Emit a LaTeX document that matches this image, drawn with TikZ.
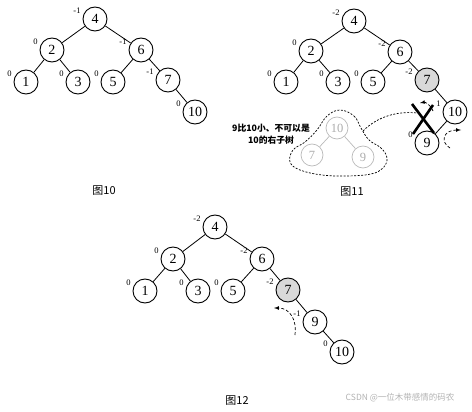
\documentclass[tikz,border=0pt]{standalone}
\usepackage{fontspec}
\setmainfont{Liberation Serif}
\newfontfamily\cjk{Noto Sans CJK SC}
\usetikzlibrary{arrows}
\tikzset{avl/.style={circle, draw, line width=0.9pt, inner sep=0pt, minimum size=24pt, font=\fontsize{14}{14}\selectfont},
  hot/.style={avl, fill=gray!30},
  ghost/.style={circle, draw=gray!55, text=gray!65, line width=0.7pt, inner sep=0pt, minimum size=22pt, font=\fontsize{12.5}{12.5}\selectfont},
  bal/.style={inner sep=0.5pt, label distance=2pt, font=\fontsize{8.5}{8.5}\selectfont},
  figcap/.style={font=\cjk\fontsize{11}{11}\selectfont},
  turn/.style={densely dashed, line width=0.7pt, -latex}}

\begin{document}
\begin{tikzpicture}[x=1pt,y=-1pt,line width=0.8pt]
  \useasboundingbox (0,0) rectangle (472,412);
  % figure 10
  \begin{scope}[shift={(95,19)}]
   \node[avl,label={[bal]160:-1}] (a4) at (0,0) {4};
   \node[avl,label={[bal]160:0}] (a2) at (-43,31) {2};
   \node[avl,label={[bal]160:-1}] (a6) at (46,31) {6};
   \node[avl,label={[bal]160:0}] (a1) at (-69,63) {1};
   \node[avl,label={[bal]160:0}] (a3) at (-17,63) {3};
   \node[avl,label={[bal]160:0}] (a5) at (18,63) {5};
   \node[avl,label={[bal]160:-1}] (a7) at (73,61) {7};
   \node[avl,label={[bal]160:0}] (a10) at (100,93) {10};
   \draw (a4) -- (a2) (a4) -- (a6) (a2) -- (a1) (a2) -- (a3)
         (a6) -- (a5) (a6) -- (a7) (a7) -- (a10);
  \end{scope}
  \node[figcap] (capa) at (104,191) {图10};
  % figure 11
  \begin{scope}[shift={(354,21)}]
   \node[avl,label={[bal]160:-2}] (b4) at (0,0) {4};
   \node[avl,label={[bal]160:0}] (b2) at (-43,30) {2};
   \node[avl,label={[bal]160:-2}] (b6) at (46,31) {6};
   \node[avl,label={[bal]160:0}] (b1) at (-68,61) {1};
   \node[avl,label={[bal]160:0}] (b3) at (-16,61) {3};
   \node[avl,label={[bal]160:0}] (b5) at (19,61) {5};
   \node[hot,label={[bal]160:-2}] (b7) at (73,59) {7};
   \node[avl,label={[bal]160:1}] (b10) at (101,91) {10};
   \node[avl,label={[bal]160:0}] (b9) at (73,122) {9};
   \draw (b4) -- (b2) (b4) -- (b6) (b2) -- (b1) (b2) -- (b3)
         (b6) -- (b5) (b6) -- (b7) (b7) -- (b10) (b10) -- (b9);
  \end{scope}
  % crossed out
  \draw[line width=2.6pt] (412,104) -- (434,133);
  \draw[line width=2.6pt] (433,105) -- (413,134);
  \draw[turn] (433,111) .. controls (430,104) and (425,102) .. (420,103);
  \draw[turn] (450,148) .. controls (440,142) and (443,130) .. (461,130);
  % what 9 would give
  \node[ghost] (g10) at (337,128) {10};
  \node[ghost] (g7) at (312,155) {7};
  \node[ghost] (g9) at (363,157) {9};
  \draw[gray!55, line width=0.7pt] (g10) -- (g7) (g10) -- (g9);
  \draw[dash pattern=on 2pt off 1.5pt, line width=0.7pt] plot[smooth cycle, tension=0.65] coordinates
    {(340,110) (354,116) (361,128) (369,140) (381,148) (387,158) (383,168) (371,174)
     (347,176) (322,175) (300,170) (290,162) (293,150) (305,142) (317,130) (327,116)};
  \coordinate (blobr) at (363,131);
  \coordinate (xmark) at (417,113);
  \draw[dash pattern=on 2pt off 1.5pt, line width=0.7pt] (blobr) .. controls (378,116) and (398,111) .. (xmark);
  \node[font=\cjk\bfseries\fontsize{8.8}{12}\selectfont, align=center] (note) at (271,134) {9比10小、不可以是\\10的右子树};
  \node[figcap] (capb) at (352,192) {图11};
  % figure 12
  \begin{scope}[shift={(215,227)}]
   \node[avl,label={[bal]160:-2}] (c4) at (0,0) {4};
   \node[avl,label={[bal]160:0}] (c2) at (-42,32) {2};
   \node[avl,label={[bal]160:-2}] (c6) at (47,32) {6};
   \node[avl,label={[bal]160:0}] (c1) at (-70,64) {1};
   \node[avl,label={[bal]160:0}] (c3) at (-17,64) {3};
   \node[avl,label={[bal]160:0}] (c5) at (18,64) {5};
   \node[hot,label={[bal]160:-2}] (c7) at (73,63) {7};
   \node[avl,label={[bal]160:-1}] (c9) at (100,95) {9};
   \node[avl,label={[bal]160:0}] (c10) at (127,125) {10};
   \draw (c4) -- (c2) (c4) -- (c6) (c2) -- (c1) (c2) -- (c3)
         (c6) -- (c5) (c6) -- (c7) (c7) -- (c9) (c9) -- (c10);
  \end{scope}
  \draw[turn] (295,335) .. controls (297,320) and (290,308) .. (274,308);
  \node[figcap] (capc) at (237,401) {图12};
  \node[font=\cjk\fontsize{8.5}{9}\selectfont, text=gray!60, anchor=west] (mark) at (342,398) {CSDN @一位木带感情的码农};
\end{tikzpicture}
\end{document}
